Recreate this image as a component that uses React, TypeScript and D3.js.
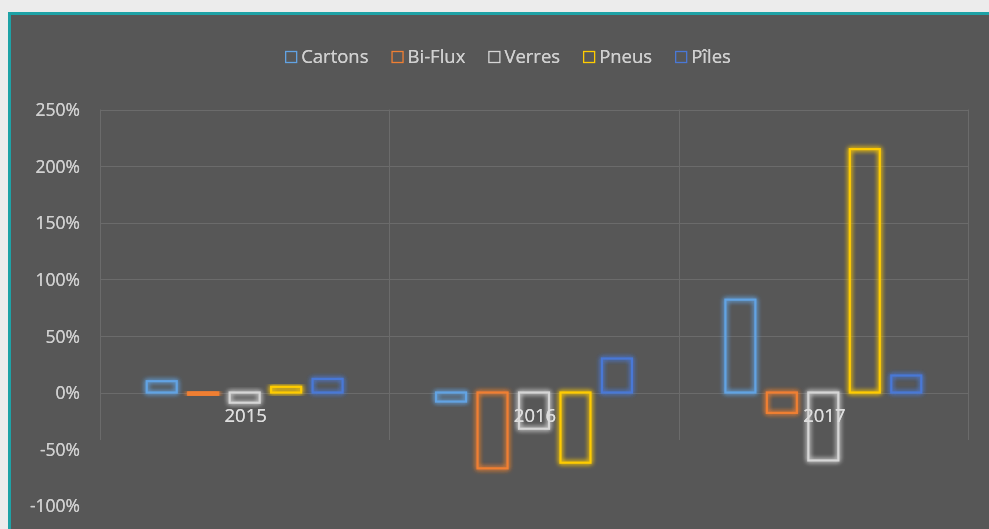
import React, { useEffect, useRef } from "react";
import * as d3 from "d3";

const categories = ["2015", "2016", "2017"];
const seriesNames = ["Cartons", "Bi-Flux", "Verres", "Pneus", "Pîles"];
const cartons = [10, -8, 82];
const biFlux = [-2, -67, -18];
const verres = [-9, -32, -60];
const pneus = [5, -62, 215];
const piles = [12, 30, 15];
const yTicks = [250, 200, 150, 100, 50, 0, -50, -100];
const seriesColors = ["#62a3e3", "#f07f33", "#d6d6d6", "#ffcc00", "#4a78d6"];

const W = 989;
const H = 529;

export default function App() {
  const ref = useRef<SVGSVGElement>(null);

  useEffect(() => {
    const svg = d3.select(ref.current);
    svg.selectAll("*").remove();
    const values = [cartons, biFlux, verres, pneus, piles];
    const font = "'Open Sans', 'Noto Sans', sans-serif";

    const defs = svg.append("defs");
    const f = defs.append("filter").attr("id", "glow").attr("x", "-50%").attr("y", "-50%").attr("width", "200%").attr("height", "200%");
    f.append("feGaussianBlur").attr("in", "SourceGraphic").attr("stdDeviation", 2.5).attr("result", "b");
    const m = f.append("feMerge");
    m.append("feMergeNode").attr("in", "b");
    m.append("feMergeNode").attr("in", "b");
    m.append("feMergeNode").attr("in", "SourceGraphic");
    const tf = defs.append("filter").attr("id", "tglow").attr("x", "-20%").attr("y", "-20%").attr("width", "140%").attr("height", "140%");
    tf.append("feGaussianBlur").attr("in", "SourceGraphic").attr("stdDeviation", 0.6).attr("result", "b");
    const tm = tf.append("feMerge");
    tm.append("feMergeNode").attr("in", "b");
    tm.append("feMergeNode").attr("in", "SourceGraphic");

    svg.append("rect").attr("width", W).attr("height", H).attr("fill", "#ececec");
    svg.append("rect").attr("x", 9.5).attr("y", 13.5).attr("width", W + 20).attr("height", H + 20)
      .attr("fill", "#575757").attr("stroke", "#1ea2a6").attr("stroke-width", 3);

    const left = 100, right = 968, top = 109.5;
    const y = d3.scaleLinear().domain([-100, 250]).range([505.7, top]);
    const gridBottom = 440;
    const x0 = d3.scaleBand().domain(categories).range([left, right]).padding(0);
    const x1 = d3.scaleBand().domain(seriesNames).range([0, x0.bandwidth()]).paddingInner(0.277).paddingOuter(1.127);

    const grid = svg.append("g").attr("stroke", "#6b6b6b").attr("stroke-width", 1);
    yTicks.filter((t) => t >= 0).forEach((t) => {
      grid.append("line").attr("x1", left).attr("x2", right).attr("y1", Math.round(y(t)) + 0.5).attr("y2", Math.round(y(t)) + 0.5);
    });
    const vlines = [...categories.map((c) => x0(c)!), right];
    vlines.forEach((vx) => {
      grid.append("line").attr("x1", Math.round(vx) + 0.5).attr("x2", Math.round(vx) + 0.5).attr("y1", top).attr("y2", gridBottom);
    });

    svg.append("g").selectAll("text").data(yTicks).join("text")
      .attr("x", 80).attr("y", (d) => y(d) + 2).attr("text-anchor", "end").attr("dominant-baseline", "middle")
      .attr("font-family", font).attr("font-size", 17.5).attr("fill", "#d0d0d0").attr("filter", "url(#tglow)")
      .text((d) => `${d}%`);

    const bars = svg.append("g");
    values.forEach((vals, si) => {
      const name = seriesNames[si];
      bars.append("g").selectAll("rect").data(vals).join("rect")
        .attr("x", (d, i) => x0(categories[i])! + x1(name)!)
        .attr("width", x1.bandwidth())
        .attr("y", (d) => y(Math.max(0, d)))
        .attr("height", (d) => Math.abs(y(d) - y(0)))
        .attr("fill", "none")
        .attr("stroke", seriesColors[si])
        .attr("stroke-width", 2.2)
        .attr("filter", "url(#glow)");
    });

    svg.append("g").selectAll("text").data(categories).join("text")
      .attr("x", (d) => x0(d)! + x0.bandwidth() / 2 + 1)
      .attr("y", y(0) + 29)
      .attr("text-anchor", "middle")
      .attr("font-family", font).attr("font-size", 18.5).attr("fill", "#dedede").attr("filter", "url(#tglow)")
      .text((d) => d);

    // legend
    const lg = svg.append("g");
    const items: { g: any; w: number }[] = [];
    seriesNames.forEach((n, i) => {
      const g = lg.append("g");
      g.append("rect").attr("x", 0.5).attr("y", -6.5).attr("width", 11).attr("height", 11)
        .attr("fill", "none").attr("stroke", seriesColors[i]).attr("stroke-width", 1.3);
      const t = g.append("text").attr("x", 16).attr("y", 0).attr("dominant-baseline", "middle")
        .attr("font-family", font).attr("font-size", 18.5).attr("fill", "#d0d0d0").attr("filter", "url(#tglow)").text(n);
      const w = 16 + (t.node() as SVGTextElement).getComputedTextLength();
      items.push({ g, w });
    });
    const gap = 23;
    const total = d3.sum(items, (d) => d.w) + gap * (items.length - 1);
    let cx = 508 - total / 2;
    items.forEach((it) => {
      it.g.attr("transform", `translate(${cx},58)`);
      cx += it.w + gap;
    });
  }, []);

  return (
    <div style={{ position: "absolute", left: 0, top: 0, width: W, height: H, overflow: "hidden" }}>
      <svg ref={ref} width={W} height={H} />
    </div>
  );
}
